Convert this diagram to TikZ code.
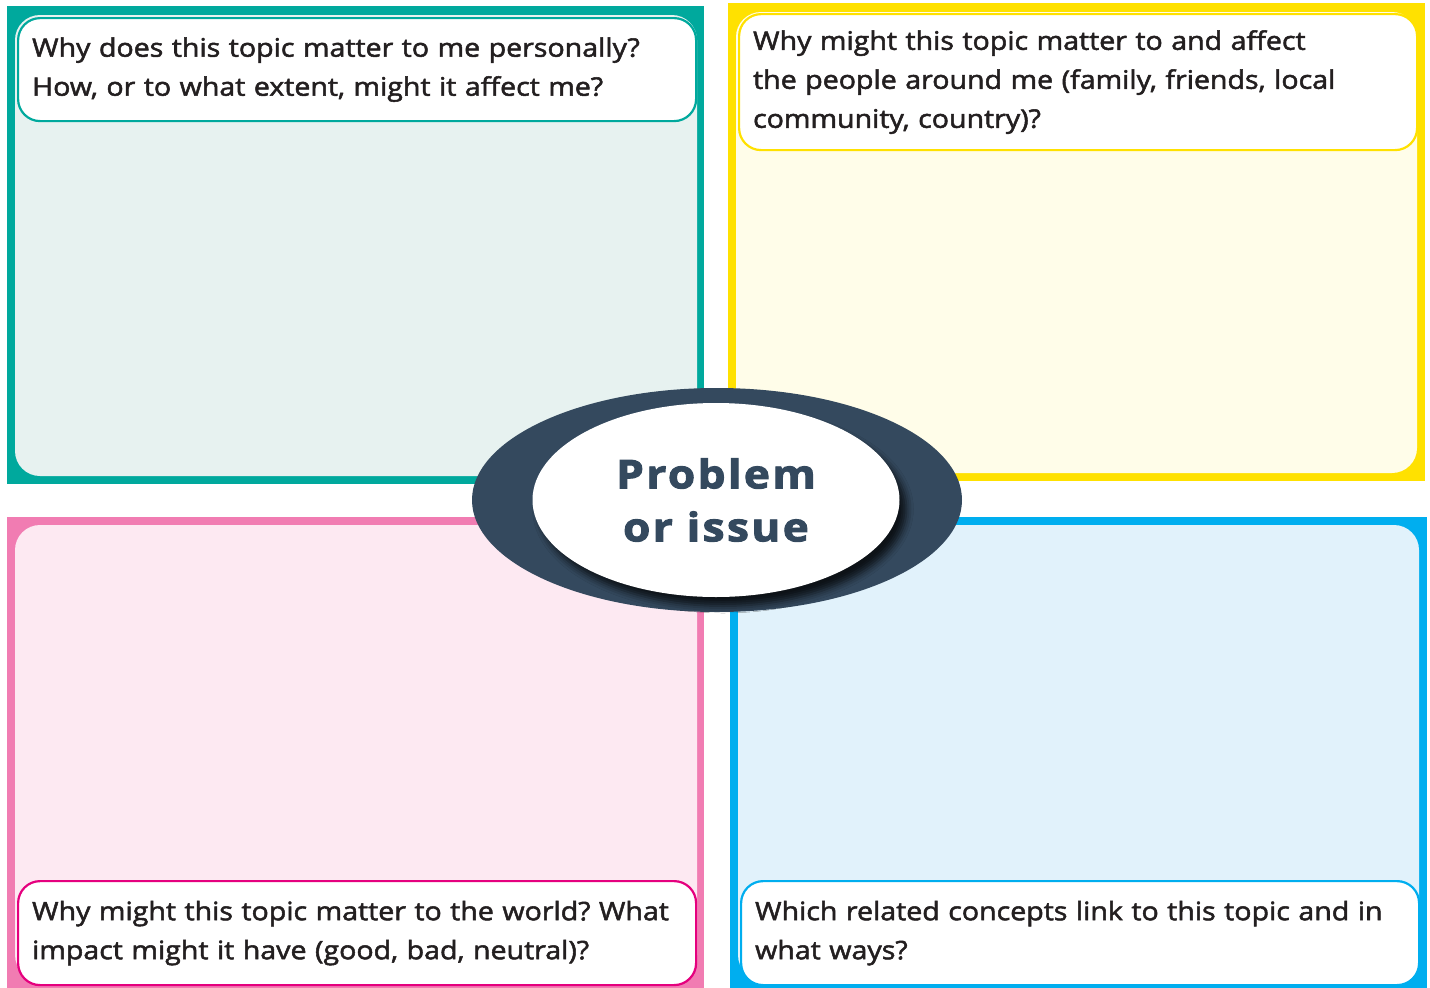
\documentclass[tikz,border=0pt]{standalone}
\usepackage{fontspec}
\setmainfont{Open Sans}[FakeBold=2, FakeStretch=1.12]
\newfontfamily\titlefont{Open Sans}[LetterSpace=6, FakeStretch=1.12, FakeBold=2.5]
\usetikzlibrary{shapes.geometric, shadows.blur}
\frenchspacing

\definecolor{tealframe}{HTML}{00A99D}
\definecolor{tealpanel}{HTML}{E7F2F0}
\definecolor{yellowframe}{HTML}{FFE100}
\definecolor{yellowpanel}{HTML}{FFFDE9}
\definecolor{pinkframe}{HTML}{F17CB2}
\definecolor{pinkline}{HTML}{E5007E}
\definecolor{pinkpanel}{HTML}{FDE9F2}
\definecolor{blueframe}{HTML}{00AEEF}
\definecolor{bluepanel}{HTML}{E1F2FB}
\definecolor{navy}{HTML}{34495E}
\definecolor{textgrey}{HTML}{231F20}

\tikzstyle{panel} = [rounded corners=25pt]
\tikzstyle{header} = [rectangle, rounded corners=22pt, fill=white, line width=2.2pt,
  anchor=north west, inner xsep=14pt, text width=650pt, align=left,
  text=textgrey, font=\fontsize{25.5}{39}\selectfont]

\begin{document}
\begin{tikzpicture}[x=1pt, y=-1pt]
    \useasboundingbox (0,0) rectangle (1430,988);
    \fill[white] (0,0) rectangle (1430,988);

      % Frames
      \fill[tealframe] (7,6) rectangle (704,484);
      \fill[tealpanel, panel] (15,15) rectangle (697,476);
      \fill[yellowframe] (728,3) rectangle (1425,481);
      \fill[yellowpanel, panel] (736,12) rectangle (1417,473);
      \fill[pinkframe] (7,517) rectangle (704,988);
      \fill[pinkpanel, panel] (15,525) rectangle (697,980);
      \fill[blueframe] (730,517) rectangle (1427,988);
      \fill[bluepanel, panel] (738,525) rectangle (1419,980);

      % Questions
      \node[header, draw=tealframe, minimum width=678pt, minimum height=103pt] (personal) at (17,17)
        {Why does this topic matter to me personally?\\How, or to what extent, might it affect me?};
      \node[header, draw=yellowframe, minimum width=677pt, minimum height=136pt] (people) at (738,13)
        {Why might this topic matter to and affect\\the people around me (family, friends, local\\community, country)?};
      \node[header, draw=pinkline, minimum width=678pt, minimum height=104pt] (world) at (17,880)
        {Why might this topic matter to the world? What\\impact might it have (good, bad, neutral)?};
      \node[header, draw=blueframe, minimum width=677pt, minimum height=104pt] (concepts) at (740,880)
        {Which related concepts link to this topic and in\\what ways?};

      % Centre
      \node[ellipse, fill=navy, minimum width=490pt, minimum height=224pt, inner sep=0pt] (outer) at (717,500) {};
      \node[ellipse, fill=white, minimum width=367pt, minimum height=194pt, inner sep=0pt,
        blur shadow={shadow xshift=7pt, shadow yshift=-9pt, shadow blur radius=7pt, shadow opacity=75},
        text=navy, align=center, font=\titlefont\bfseries\fontsize{39.5}{53}\selectfont] (topic) at (716,500)
        {Problem\\or issue};

  \end{tikzpicture}
\end{document}
